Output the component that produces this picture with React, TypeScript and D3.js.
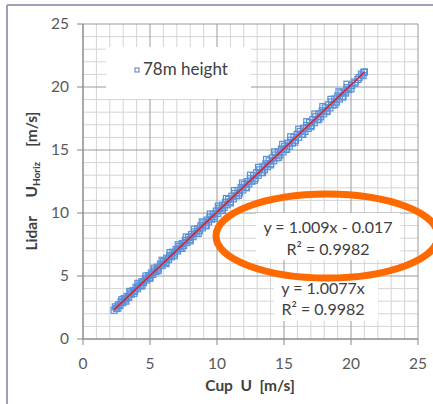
import React from "react";
import * as d3 from "d3";

// Ten-minute mean wind speeds: cup anemometer vs. lidar horizontal speed at 78 m
const cupU = [
  2.32, 2.41, 2.5, 2.63, 2.75, 2.84, 2.97, 3.08, 3.16, 3.29, 3.41, 3.52, 3.6, 3.74, 3.85, 3.96,
  4.07, 4.18, 4.31, 4.4, 4.52, 4.66, 4.75, 4.88, 4.97, 5.1, 5.21, 5.33, 5.44, 5.55, 5.63, 5.78,
  5.9, 6.02, 6.13, 6.25, 6.38, 6.47, 6.6, 6.71, 6.83, 6.95, 7.06, 7.18, 7.29, 7.41, 7.52, 7.64,
  7.75, 7.87, 7.98, 8.1, 8.21, 8.33, 8.45, 8.56, 8.68, 8.79, 8.91, 9.02, 9.14, 9.25, 9.37, 9.48,
  9.6, 9.72, 9.83, 9.95, 10.06, 10.18, 10.3, 10.41, 10.53, 10.64, 10.76, 10.87, 10.99, 11.11,
  11.22, 11.34, 11.45, 11.57, 11.68, 11.8, 11.92, 12.03, 12.15, 12.26, 12.38, 12.49, 12.61,
  12.73, 12.84, 12.96, 13.07, 13.19, 13.31, 13.42, 13.54, 13.65, 13.77, 13.89, 14.0, 14.12,
  14.23, 14.35, 14.47, 14.58, 14.7, 14.81, 14.93, 15.05, 15.16, 15.28, 15.39, 15.51, 15.63,
  15.74, 15.86, 15.98, 16.1, 16.21, 16.33, 16.45, 16.56, 16.68, 16.8, 16.91, 17.03, 17.15,
  17.26, 17.38, 17.5, 17.61, 17.73, 17.85, 17.96, 18.08, 18.2, 18.31, 18.43, 18.55, 18.66,
  18.78, 18.9, 19.01, 19.13, 19.25, 19.36, 19.48, 19.6, 19.71, 19.83, 20.05, 20.28, 20.52,
  20.78, 20.95,
  2.6, 2.9, 3.2, 3.5, 3.8, 4.1, 4.4, 4.7, 5.0, 5.3, 5.6, 5.9, 6.2, 6.5, 6.8, 7.1, 7.4, 7.7,
  8.0, 8.3, 8.6, 8.9, 9.2, 9.5, 9.8, 10.1, 10.4, 10.7, 11.0, 11.3, 11.6, 11.9, 12.2, 12.5,
  12.8, 13.1, 13.4, 13.7, 14.0, 14.3, 14.6, 14.9, 15.2, 15.5, 15.8, 16.1, 16.4, 16.7, 17.0,
  17.3, 17.6, 17.9, 18.2, 18.5, 18.8, 19.1, 19.4, 19.7, 20.0, 20.3, 20.6, 20.9, 21.0,
];
const lidarU = [
  2.28, 2.55, 2.42, 2.71, 2.66, 2.95, 2.88, 3.21, 3.1, 3.38, 3.3, 3.66, 3.55, 3.83, 3.78, 4.1,
  3.99, 4.29, 4.22, 4.55, 4.47, 4.79, 4.68, 5.02, 4.9, 5.24, 5.12, 5.47, 5.36, 5.7, 5.55, 5.94,
  5.82, 6.16, 6.05, 6.41, 6.3, 6.62, 6.52, 6.89, 6.75, 7.1, 6.98, 7.35, 7.2, 7.58, 7.43, 7.82,
  7.66, 8.05, 7.9, 8.29, 8.12, 8.5, 8.37, 8.75, 8.59, 8.98, 8.82, 9.21, 9.05, 9.44, 9.28, 9.67,
  9.51, 9.9, 9.74, 10.15, 9.97, 10.37, 10.21, 10.62, 10.44, 10.85, 10.66, 11.08, 10.9, 11.33,
  11.12, 11.55, 11.36, 11.79, 11.59, 12.02, 11.83, 12.25, 12.05, 12.49, 12.3, 12.72, 12.52,
  12.96, 12.75, 13.19, 12.99, 13.43, 13.22, 13.66, 13.44, 13.9, 13.68, 14.13, 13.92, 14.37,
  14.14, 14.6, 14.38, 14.83, 14.61, 15.07, 14.85, 15.3, 15.08, 15.54, 15.3, 15.77, 15.55,
  16.0, 15.77, 16.24, 16.01, 16.47, 16.24, 16.71, 16.47, 16.94, 16.71, 17.17, 16.94, 17.41,
  17.17, 17.64, 17.4, 17.87, 17.64, 18.11, 17.87, 18.34, 18.1, 18.58, 18.34, 18.81, 18.57,
  19.05, 18.8, 19.28, 19.04, 19.52, 19.27, 19.6, 19.52, 19.95, 19.8, 20.12, 20.4, 20.6,
  21.02, 21.15,
  2.45, 3.12, 3.0, 3.78, 3.62, 4.42, 4.22, 5.0, 4.82, 5.62, 5.42, 6.25, 5.98, 6.85, 6.6, 7.48,
  7.2, 8.1, 7.78, 8.72, 8.38, 9.3, 8.98, 9.92, 9.58, 10.55, 10.2, 11.15, 10.8, 11.78, 11.4,
  12.38, 12.0, 13.0, 12.6, 13.62, 13.2, 14.25, 13.82, 14.85, 14.42, 15.45, 15.05, 16.05,
  15.62, 16.65, 16.25, 17.25, 16.85, 17.85, 17.45, 18.45, 18.05, 19.02, 18.62, 19.62, 19.2,
  20.22, 19.85, 20.3, 20.75, 20.9, 21.2,
];

const axisTicks = [0, 5, 10, 15, 20, 25];
const minorGrid = d3.range(0, 26);
const seriesName = "78m height";
const fitSlope = 1.009;
const fitIntercept = -0.017;
const fitLabel = ["y = 1.009x - 0.017", "R\u00b2 = 0.9982"];
const originFitLabel = ["y = 1.0077x", "R\u00b2 = 0.9982"];

const W = 433;
const H = 404;
const plot = { left: 83, right: 418, top: 24, bottom: 339 };
const font = "Lato, 'Open Sans', sans-serif";
const textColor = "#595959";

export default function App() {
  const x = d3.scaleLinear().domain([0, 25]).range([plot.left, plot.right]);
  const y = d3.scaleLinear().domain([0, 25]).range([plot.bottom, plot.top]);
  const points = cupU.map((u, i) => [u, lidarU[i]] as [number, number]);
  const xMin = d3.min(cupU) as number;
  const xMax = d3.max(cupU) as number;
  const fitLine = d3.line<number>()
    .x((d) => x(d))
    .y((d) => y(fitSlope * d + fitIntercept))([xMin, xMax]);

  return (
    <svg width={W} height={H} style={{ position: "absolute", left: 0, top: 0, background: "#fff" }}>
      {/* frame */}
      <line x1={7} y1={5} x2={W} y2={5} stroke="#9ea0b8" strokeWidth={2} />
      <line x1={7} y1={5} x2={7} y2={H} stroke="#9ea0b8" strokeWidth={2} />

      {/* minor grid */}
      {minorGrid.filter((v) => v % 5 !== 0).map((v) => (
        <g key={"m" + v}>
          <line x1={x(v)} x2={x(v)} y1={plot.top} y2={plot.bottom} stroke="#d4d4d4" />
          <line x1={plot.left} x2={plot.right} y1={y(v)} y2={y(v)} stroke="#d4d4d4" />
        </g>
      ))}
      {/* major grid */}
      {axisTicks.map((v) => (
        <g key={"M" + v}>
          <line x1={x(v)} x2={x(v)} y1={plot.top} y2={plot.bottom} stroke="#9a9a9a" />
          <line x1={plot.left} x2={plot.right} y1={y(v)} y2={y(v)} stroke="#9a9a9a" />
        </g>
      ))}
      {/* axes and ticks */}
      <line x1={plot.left} x2={plot.left} y1={plot.top} y2={plot.bottom} stroke="#868686" />
      <line x1={plot.left} x2={plot.right} y1={plot.bottom} y2={plot.bottom} stroke="#868686" />
      {axisTicks.map((v) => (
        <g key={"t" + v}>
          <line x1={plot.left - 6} x2={plot.left} y1={y(v)} y2={y(v)} stroke="#868686" />
          <line x1={x(v)} x2={x(v)} y1={plot.bottom} y2={plot.bottom + 6} stroke="#868686" />
          <text x={plot.left - 14} y={y(v)} dy="0.35em" textAnchor="end" fontFamily={font} fontSize={15.5} fill={textColor}>{v}</text>
          <text x={x(v)} y={plot.bottom + 30} textAnchor="middle" fontFamily={font} fontSize={15.5} fill={textColor}>{v}</text>
        </g>
      ))}

      {/* legend */}
      <rect x={106} y={47} width={145} height={52} fill="#fff" />
      <rect x={135} y={68} width={4} height={4} fill="none" stroke="#4a7ebb" strokeWidth={1} />
      <text x={143} y={75} fontFamily={font} fontSize={17} fill="#404040">{seriesName}</text>

      {/* scatter */}
      {points.map(([u, v], i) => (
        <rect key={i} x={x(u) - 3} y={y(v) - 3} width={6} height={6} fill="none" stroke="#5a90d8" strokeWidth={1.2} />
      ))}
      <path d={fitLine ?? ""} stroke="#e8171f" strokeWidth={1.6} fill="none" />

      {/* trendline labels */}
      <rect x={256} y={213} width={144} height={47} fill="#fff" />
      {fitLabel.map((t, i) => (
        <text key={t} x={328} y={233 + i * 22} textAnchor="middle" fontFamily={font} fontSize={16} fill="#404040">{t}</text>
      ))}
      <rect x={274} y={276} width={104} height={45} fill="#fff" />
      {originFitLabel.map((t, i) => (
        <text key={t} x={323} y={294 + i * 21} textAnchor="middle" fontFamily={font} fontSize={16} fill="#404040">{t}</text>
      ))}

      {/* axis titles */}
      <text x={250} y={391} textAnchor="middle" fontFamily={font} fontSize={15.5} fontWeight="bold" fill="#404040" xmlSpace="preserve">
        Cup  U  [m/s]
      </text>
      <text transform="translate(37,181) rotate(-90)" textAnchor="middle" fontFamily={font} fontSize={15.5} fontWeight="bold" fill="#404040" xmlSpace="preserve">
        <tspan>Lidar     U</tspan>
        <tspan fontSize={10} dy={3}>Horiz</tspan>
        <tspan dy={-3}>    [m/s]</tspan>
      </text>

      {/* highlight */}
      <ellipse cx={327} cy={236} rx={111} ry={42} fill="none" stroke="#ff6a00" strokeWidth={7} />
    </svg>
  );
}
